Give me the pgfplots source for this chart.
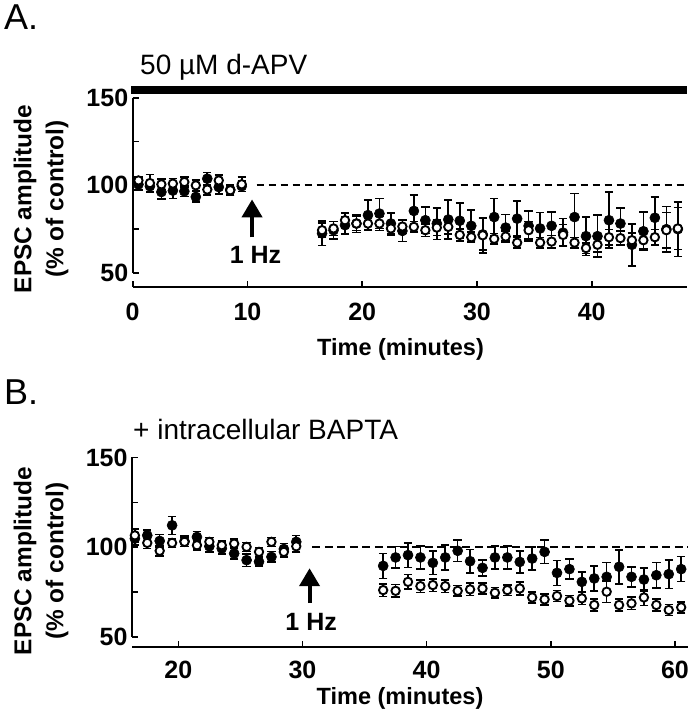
\documentclass[border=0pt]{standalone}
\usepackage{pgfplots}
\pgfplotsset{compat=1.18}
\usepackage{pgfplotstable}
\usepackage{fontspec}
\setmainfont{Liberation Sans}
\usetikzlibrary{arrows.meta}

\pgfplotstableread{
t y e
0.5 100.5 3
1.5 99.5 3
2.5 96.2 4
3.5 97.0 4.5
4.5 96.6 3
5.5 93.4 3
6.5 103.8 3.5
7.5 99.0 4
8.5 97.5 3
9.5 99.5 3
16.5 72.6 7
17.5 74.4 5
18.5 77.3 5
19.5 78.2 5
20.5 83.0 8.5
21.5 83.9 8.5
22.5 78.2 6
23.5 74.0 6
24.5 85.4 9
25.5 80.1 7.5
26.5 78.2 9
27.5 80.5 11
28.5 79.8 10
29.5 76.9 9
30.5 72.0 9
31.5 81.9 10.5
32.5 75.9 7.5
33.5 81.0 10
34.5 76.9 8.5
35.5 75.4 9
36.5 76.9 8
37.5 73.0 8
38.5 81.9 13.5
39.5 71.0 11
40.5 71.0 12
41.5 80.1 16
42.5 78.2 9
43.5 66.1 12
44.5 73.8 11
45.5 81.5 12
46.5 75.0 13
47.5 75.0 15.5
}\Afilled

\pgfplotstableread{
t y e
0.5 102.8 2
1.5 101.3 5
2.5 100.6 3
3.5 101.0 3
4.5 101.9 3
5.5 100.0 3
6.5 97.6 3
7.5 102.8 3
8.5 97.2 3
9.5 100.6 4
16.5 74.4 4
17.5 75.4 4
18.5 80.1 4
19.5 78.2 4
20.5 78.2 4
21.5 78.2 4
22.5 75.4 4
23.5 76.5 4
24.5 76.3 3
25.5 74.4 3.5
26.5 75.9 4.5
27.5 76.3 4
28.5 71.7 3.5
29.5 70.4 3
30.5 71.5 10
31.5 69.5 3
32.5 70.8 3
33.5 67.3 3
34.5 74.4 5
35.5 67.3 3
36.5 67.9 3.5
37.5 71.7 6
38.5 67.3 3
39.5 64.2 3
40.5 66.1 4
41.5 70.4 4.5
42.5 69.9 4
43.5 68.7 4
44.5 68.7 5
45.5 70.4 4.5
46.5 74.4 10
47.5 75.4 12
}\Aopen

\pgfplotstableread{
t y e
16.5 104.8 3.5
17.5 106.6 3
18.5 103.5 3.5
19.5 112.2 5
20.5 103.3 3
21.5 105.7 3
22.5 100.5 3
23.5 99.3 3
24.5 96.5 3
25.5 92.8 3.5
26.5 91.9 2.5
27.5 94.6 3
28.5 99.0 3
29.5 103.0 3.5
36.5 89.6 7
37.5 94.3 6
38.5 95.6 6.8
39.5 94.3 6.5
40.5 91.3 6.5
41.5 94.3 7
42.5 98.0 6
43.5 92.2 6.5
44.5 88.5 4.5
45.5 94.3 6.5
46.5 94.3 6.5
47.5 91.8 6
48.5 93.7 6.5
49.5 97.4 6.5
50.5 85.7 7
51.5 87.8 5.5
52.5 80.7 5.5
53.5 82.6 7
54.5 83.5 8
55.5 89.1 9.5
56.5 83.5 5.5
57.5 82.0 6.5
58.5 84.4 7
59.5 85.0 8
60.5 87.8 7
}\Bfilled

\pgfplotstableread{
t y e
16.5 106.6 3.7
17.5 102.4 3
18.5 98.0 3
19.5 102.4 2.5
20.5 103.0 2.5
21.5 101.1 2.5
22.5 103.0 2.5
23.5 101.1 2.5
24.5 102.0 2.5
25.5 100.2 2.5
26.5 97.4 2.5
27.5 103.0 2.5
28.5 97.4 3
29.5 100.5 3
36.5 76.1 3.5
37.5 75.7 3.5
38.5 80.7 4
39.5 78.3 3.5
40.5 78.9 3.5
41.5 78.3 3.5
42.5 75.7 3
43.5 76.5 3.5
44.5 77.0 3
45.5 74.6 3
46.5 76.1 3
47.5 77.0 3.5
48.5 72.0 3
49.5 70.9 3
50.5 72.8 3
51.5 70.2 3
52.5 71.5 3.5
53.5 67.8 3.5
54.5 75.2 6
55.5 67.8 3.5
56.5 68.7 3.5
57.5 72.0 4.5
58.5 67.8 3.5
59.5 65.0 3
60.5 66.5 3
}\Bopen

\pgfplotsset{
  panel/.style={
    scale only axis, clip=false,
    axis x line*=bottom, axis y line*=left,
    axis line style={draw=none},
    tick align=inside,
    major tick length=6pt, minor tick length=6pt,
    every tick/.style={black, line width=1.6pt},
    ytick={50,100,150}, minor ytick={75,125},
    /pgf/number format/assume math mode=true,
    ticklabel style={font=\fontsize{25}{30}\selectfont\bfseries},
    yticklabel style={xshift=-1pt},
  },
  ebars/.style={error bars/.cd, y dir=both, y explicit,
    error mark=|,
    error bar style={line width=1.6pt, black},
    error mark options={line width=1.6pt, mark size=4.2pt, black}},
  filledser/.style={only marks, mark=*, mark size=5pt,
    mark options={fill=black, draw=black, line width=0.6pt}, ebars},
  openser/.style={only marks, mark=*, mark size=4.2pt,
    mark options={fill=white, draw=black, line width=1.9pt}, ebars},
}

\begin{document}
\begin{tikzpicture}
\useasboundingbox (0pt,0pt) rectangle (692pt,720pt);

% Panel A
\begin{axis}[panel, at={(132.7pt,433pt)}, anchor=south west,
  width=554.3pt, height=201pt,
  xmin=0, xmax=48.3, ymin=42, ymax=156.7,
  xtick={0,10,20,30,40}, xticklabel style={yshift=-13pt}]
  \fill[black] (axis cs:-0.15,152.1) rectangle (axis cs:48.3,156.7);
  \draw[line width=1.6pt] (axis cs:0,42) -- (axis cs:48.3,42);
  \draw[line width=1.6pt] (axis cs:0,50) -- (axis cs:0,150);
  \draw[dash pattern=on 7.5pt off 4.5pt, line width=1.8pt] (axis cs:10.8,100) -- (axis cs:48.3,100);
  \draw[-{Triangle[width=20pt,length=18pt]}, line width=4pt] (axis cs:10.4,70.3) -- (axis cs:10.4,92);
  \node[anchor=base, font=\fontsize{25}{30}\selectfont\bfseries] at (axis cs:10.7,55.5) {1 Hz};
  \addplot[filledser] table[x=t, y=y, y error=e] {\Afilled};
  \addplot[openser] table[x=t, y=y, y error=e] {\Aopen};
\end{axis}

% Panel B
\begin{axis}[panel, at={(132pt,73pt)}, anchor=south west,
  width=556pt, height=189.5pt,
  xmin=16.27, xmax=61.05, ymin=44.4, ymax=150,
  xtick={20,30,40,50,60}, xticklabel style={yshift=-11pt}]
  \draw[line width=1.6pt] (axis cs:16.27,44.4) -- (axis cs:61.05,44.4);
  \draw[line width=1.6pt] (axis cs:16.27,50) -- (axis cs:16.27,150);
  \draw[dash pattern=on 8pt off 4.5pt, line width=1.8pt] (axis cs:30.8,100) -- (axis cs:61.05,100);
  \draw[-{Triangle[width=20pt,length=18pt]}, line width=4pt] (axis cs:30.57,68.8) -- (axis cs:30.57,88.3);
  \node[anchor=base, font=\fontsize{25}{30}\selectfont\bfseries] at (axis cs:30.7,53.5) {1 Hz};
  \addplot[filledser] table[x=t, y=y, y error=e] {\Bfilled};
  \addplot[openser] table[x=t, y=y, y error=e] {\Bopen};
\end{axis}

% Texts
\node[anchor=base west, font=\fontsize{36}{40}\selectfont, inner sep=0pt] at (4pt,690pt) {A.};
\node[anchor=base west, font=\fontsize{36}{40}\selectfont, inner sep=0pt] at (4pt,315pt) {B.};
\node[anchor=base west, font=\fontsize{28}{32}\selectfont, inner sep=0pt] at (140pt,645pt) {50 µM d-APV};
\node[anchor=base west, font=\fontsize{28}{32}\selectfont, inner sep=0pt] at (133pt,280pt) {+ intracellular BAPTA};
\node[rotate=90, align=center, font=\fontsize{24.4}{32}\selectfont\bfseries] at (41pt,521pt) {EPSC amplitude\\(\% of control)};
\node[rotate=90, align=center, font=\fontsize{24.4}{32}\selectfont\bfseries] at (41pt,159pt) {EPSC amplitude\\(\% of control)};
\node[anchor=base, font=\fontsize{23.5}{28}\selectfont\bfseries, inner sep=0pt] at (400.5pt,364pt) {Time (minutes)};
\node[anchor=base, font=\fontsize{23.5}{28}\selectfont\bfseries, inner sep=0pt] at (400pt,16pt) {Time (minutes)};
\end{tikzpicture}
\end{document}
